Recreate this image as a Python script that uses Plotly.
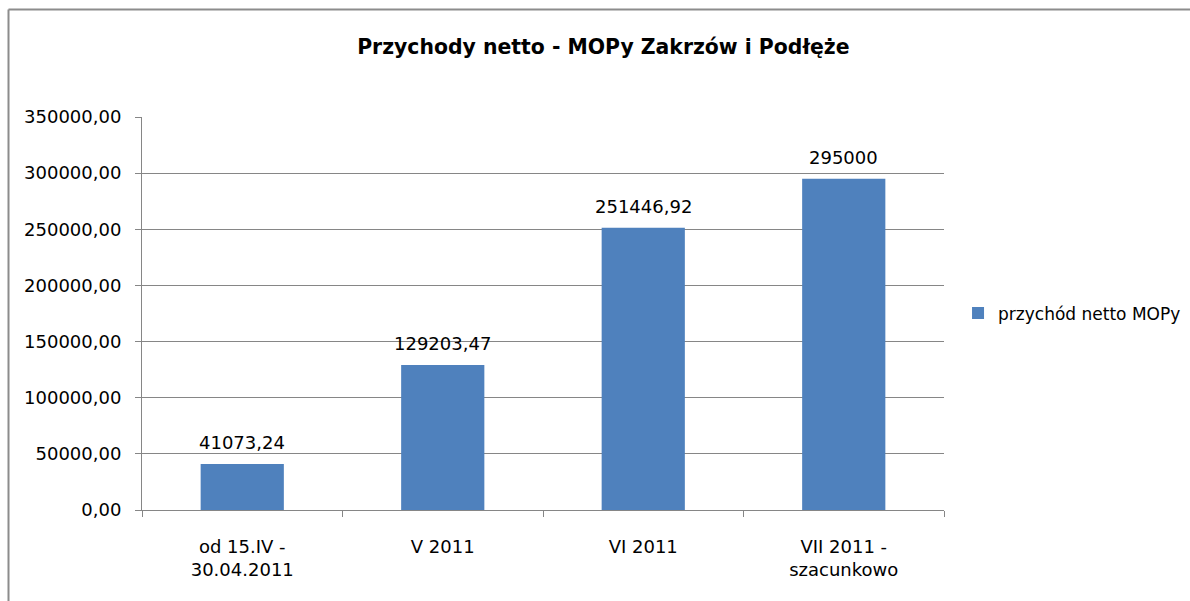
import plotly.graph_objects as go

categories = ["od 15.IV -<br>30.04.2011", "V 2011", "VI 2011", "VII 2011 -<br>szacunkowo"]
values = [41073.24, 129203.47, 251446.92, 295000]
value_labels = ["41073,24", "129203,47", "251446,92", "295000"]
series_name = "przychód netto MOPy"
y_ticks = [0, 50000, 100000, 150000, 200000, 250000, 300000, 350000]

FONT = "DejaVu Sans"
FS = 18
fig = go.Figure()
fig.add_trace(go.Bar(
    x=categories, y=values, name=series_name,
    marker=dict(color="#4F81BD", line=dict(width=0)),
    width=0.415,
))

for c, v, t in zip(categories, values, value_labels):
    fig.add_annotation(x=c, y=v, text=t, showarrow=False,
                       xanchor="center", yanchor="bottom", yshift=9,
                       font=dict(family=FONT, size=FS, color="#000000"))

fig.update_layout(
    width=1190, height=601,
    margin=dict(l=142, r=246, t=117, b=91, autoexpand=False),
    paper_bgcolor="white", plot_bgcolor="white",
    separators=",.",
    font=dict(family=FONT, size=FS, color="#000000"),
    title=dict(text="<b>Przychody netto - MOPy Zakrzów i Podłęże</b>",
               x=0.507, xanchor="center", y=0.922, yanchor="middle",
               font=dict(family=FONT, size=20.4, color="#000000")),
    showlegend=True,
    legend=dict(x=1.0175, y=0.5, xanchor="left", yanchor="middle",
                font=dict(family=FONT, size=17, color="#000000"),
                itemwidth=30, bgcolor="rgba(0,0,0,0)"),
    bargap=0.585,
    xaxis=dict(showline=True, linecolor="#868686", linewidth=1,
               ticks="outside", tickson="boundaries", ticklen=6, tickcolor="#868686",
               showgrid=False, ticklabelstandoff=20,
               tickfont=dict(family=FONT, size=FS)),
    yaxis=dict(range=[0, 350000], tickvals=y_ticks, tickformat=".2f",
               showline=True, linecolor="#868686", linewidth=1,
               ticks="outside", ticklen=6, tickcolor="#868686",
               showgrid=True, gridcolor="#868686", gridwidth=1,
               zeroline=False, ticklabelstandoff=10,
               tickfont=dict(family=FONT, size=FS)),
)

# chart border (top and left edges visible)
fig.add_shape(type="line", xref="paper", yref="paper",
              x0=(8.5 - 142) / 802, x1=(1200 - 142) / 802,
              y0=(510 - 9.5) / 393, y1=(510 - 9.5) / 393,
              line=dict(color="#8C8C8C", width=2))
fig.add_shape(type="line", xref="paper", yref="paper",
              x0=(8.5 - 142) / 802, x1=(8.5 - 142) / 802,
              y0=(510 - 9.5) / 393, y1=(510 - 620) / 393,
              line=dict(color="#8C8C8C", width=2))

fig.write_html("out.html", config={"displayModeBar": False},
               post_script="document.body.style.margin='0';")
